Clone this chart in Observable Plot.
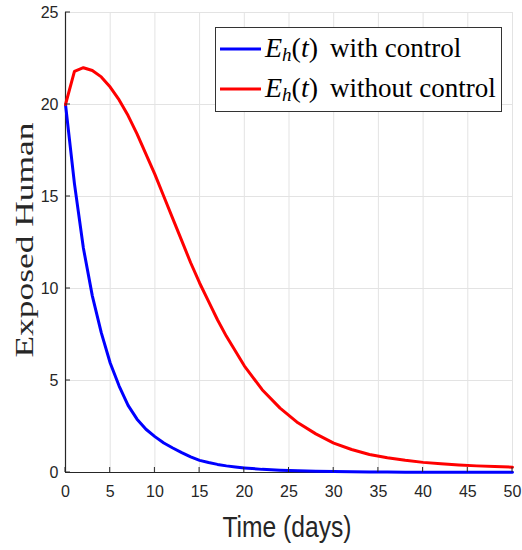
<!DOCTYPE html>
<html>
<head>
<meta charset="utf-8">
<script src="https://cdn.jsdelivr.net/npm/d3@7"></script>
<script src="https://cdn.jsdelivr.net/npm/@observablehq/plot@0.6"></script>
<style>
  html, body { margin: 0; padding: 0; background: #fff; }
  #chart { width: 522px; height: 550px; }
</style>
</head>
<body>
<div id="chart"></div>
<script>
const days = [0,1,2,3,4,5,6,7,8,9,10,11,12,13,14,15,16,17,18,19,20,22,24,26,28,30,32,34,36,38,40,42,44,46,48,50];
const withControl = [20,15.7,12.2,9.6,7.6,5.95,4.7,3.65,2.9,2.35,1.95,1.6,1.33,1.08,0.85,0.66,0.54,0.44,0.36,0.3,0.25,0.17,0.12,0.09,0.07,0.05,0.04,0.03,0.025,0.02,0.016,0.013,0.011,0.009,0.008,0.007];
const withoutControl = [20,21.8,22.0,21.85,21.5,20.95,20.25,19.4,18.4,17.3,16.2,15.0,13.8,12.6,11.4,10.3,9.3,8.3,7.4,6.6,5.8,4.5,3.5,2.7,2.1,1.6,1.25,0.98,0.8,0.66,0.55,0.47,0.41,0.36,0.32,0.29];
const xTicks = [0,5,10,15,20,25,30,35,40,45,50];
const yTicks = [0,5,10,15,20,25];
const seriesNames = ["with control", "without control"];
const seriesColors = ["#0000ff", "#ff0000"];

const rows = [];
days.forEach((d, i) => {
  rows.push({t: d, v: withControl[i], s: seriesNames[0]});
});
days.forEach((d, i) => {
  rows.push({t: d, v: withoutControl[i], s: seriesNames[1]});
});

const axisColor = "#262626";
const tickFont = "'Liberation Sans', Arial, sans-serif";
const serifFont = "'Liberation Serif', 'DejaVu Serif', serif";

const chart = Plot.plot({
  width: 522,
  height: 550,
  marginLeft: 65,
  marginRight: 10,
  marginTop: 12,
  marginBottom: 78,
  style: {background: "#fff", color: axisColor, fontFamily: tickFont, fontSize: "16px"},
  x: {domain: [0, 50], ticks: xTicks},
  y: {domain: [0, 25], ticks: yTicks},
  color: {domain: seriesNames, range: seriesColors},
  marks: [
    Plot.gridX(xTicks, {stroke: "#e3e3e3", strokeOpacity: 1, strokeWidth: 1}),
    Plot.gridY(yTicks, {stroke: "#e3e3e3", strokeOpacity: 1, strokeWidth: 1}),
    Plot.axisX(xTicks, {tickSize: 0, tickPadding: 13, label: null, fill: axisColor, fontSize: 16}),
    Plot.axisY(yTicks, {tickSize: 0, tickPadding: 7, label: null, fill: axisColor, fontSize: 16}),
    Plot.ruleY([0], {stroke: axisColor, strokeWidth: 1.2}),
    Plot.ruleX([0], {stroke: axisColor, strokeWidth: 1.2}),
    Plot.line(rows, {x: "t", y: "v", stroke: "s", z: "s", strokeWidth: 3, curve: "linear"})
  ]
});

document.getElementById("chart").appendChild(chart);

const svg = d3.select(chart);
const sx = chart.scale("x"), sy = chart.scale("y");

// inward tick marks, positioned through the scales
const tickG = svg.append("g").attr("stroke", axisColor).attr("stroke-width", 1);
xTicks.forEach(t => {
  const px = sx.apply(t);
  tickG.append("line").attr("x1", px).attr("x2", px).attr("y1", sy.apply(0)).attr("y2", sy.apply(0) - 5);
});
yTicks.forEach(t => {
  const py = sy.apply(t);
  tickG.append("line").attr("x1", sx.apply(0)).attr("x2", sx.apply(0) + 5).attr("y1", py).attr("y2", py);
});

// axis labels
svg.append("text")
  .attr("x", 287).attr("y", 537)
  .attr("text-anchor", "middle")
  .attr("font-family", tickFont)
  .attr("font-size", 30)
  .attr("fill", axisColor)
  .attr("textLength", 129)
  .attr("lengthAdjust", "spacingAndGlyphs")
  .text("Time (days)");

svg.append("text")
  .attr("transform", "translate(33,240) rotate(-90)")
  .attr("text-anchor", "middle")
  .attr("font-family", serifFont)
  .attr("font-size", 25)
  .attr("fill", axisColor)
  .attr("textLength", 235)
  .attr("lengthAdjust", "spacingAndGlyphs")
  .text("Exposed Human");

// legend
const lg = svg.append("g").attr("text-anchor", "start");
lg.append("rect").attr("x", 215.5).attr("y", 27.5).attr("width", 286).attr("height", 84)
  .attr("fill", "#fff").attr("stroke", "#333").attr("stroke-width", 1);
const legendRows = [
  {y: 49, base: 57, name: seriesNames[0], color: seriesColors[0]},
  {y: 89, base: 97, name: seriesNames[1], color: seriesColors[1]}
];
legendRows.forEach(r => {
  lg.append("line").attr("x1", 220).attr("x2", 261).attr("y1", r.y).attr("y2", r.y)
    .attr("stroke", r.color).attr("stroke-width", 3);
  const tx = lg.append("text").attr("x", 265).attr("y", r.base)
    .attr("text-anchor", "start")
    .attr("font-family", serifFont)
    .attr("font-size", 28).attr("fill", "#000");
  tx.append("tspan").attr("font-style", "italic").text("E");
  tx.append("tspan").attr("font-style", "italic").attr("font-size", 19).attr("dy", 4).text("h");
  tx.append("tspan").attr("dy", -4).text("(");
  tx.append("tspan").attr("font-style", "italic").text("t");
  tx.append("tspan").text(")");
  lg.append("text").attr("x", 330).attr("y", r.base)
    .attr("text-anchor", "start")
    .attr("font-family", serifFont)
    .attr("font-size", 27).attr("fill", "#000")
    .text(r.name);
});
</script>
</body>
</html>
